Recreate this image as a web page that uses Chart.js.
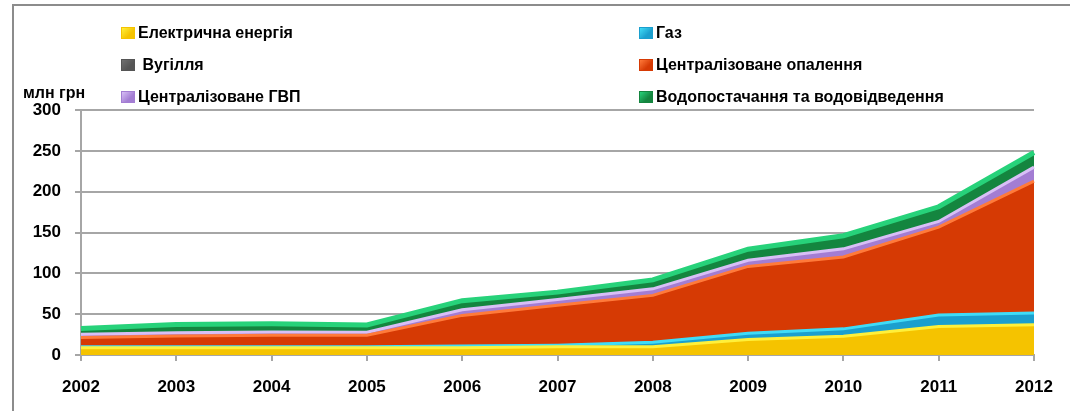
<!DOCTYPE html>
<html>
<head>
<meta charset="utf-8">
<script src="https://cdn.jsdelivr.net/npm/chart.js@4"></script>
<style>
  body { margin: 0; background: #fff; }
  #wrap { position: relative; width: 1070px; height: 411px; overflow: hidden; }
  #frame { position: absolute; left: 12px; top: 4px; width: 1200px; height: 600px;
           border-top: 2px solid #8c8c8c; border-left: 2px solid #8c8c8c; }
  canvas { position: absolute; left: 0; top: 0; }
  .lg { position: absolute; font: bold 16px "Liberation Sans", Arial, sans-serif; color: #000;
        line-height: 20px; white-space: nowrap; }
  .mk { display: inline-block; width: 14px; height: 12px; margin-right: 3px; vertical-align: -1px;
        box-sizing: border-box; }
  #unit { position: absolute; left: 23px; top: 84px; font: bold 16px "Liberation Sans", Arial, sans-serif; }
</style>
</head>
<body>
<div id="wrap">
  <div id="frame"></div>
  <canvas id="areaChart" width="1070" height="411"></canvas>
  <div id="unit">млн грн</div>
  <div id="legend"></div>
</div>
<script>
// years
var years = ["2002","2003","2004","2005","2006","2007","2008","2009","2010","2011","2012"];
// series values, млн грн
var elec  = [9, 9, 9, 9, 9, 10, 10, 19, 23, 35, 37];
var gas   = [1, 1, 1, 1, 2, 2, 5.5, 7.5, 9, 14, 14.5];
var coal  = [0.3, 0.3, 0.3, 0.3, 0.5, 0.5, 0.5, 0.5, 0.5, 0.5, 0.5];
var heat  = [11, 13, 14, 14, 37, 48.5, 57, 81.5, 87.5, 107, 161];
var hotw  = [4, 4, 4, 3.5, 7, 7, 8, 7.5, 10, 7, 17];
var water = [7, 10, 10, 9, 11, 9, 11, 13.5, 16, 18, 18];
var yTicks = [0, 50, 100, 150, 200, 250, 300];

var names = ["Електрична енергія", "Газ", "Вугілля", "Централізоване опалення",
             "Централізоване ГВП", "Водопостачання та водовідведення"];
var fills   = ["#f5c300", "#1b9fce", "#555555", "#d63a04", "#a37dd3", "#14853f"];
var edges   = ["#fff03a", "#40dcf7", "#707070", "#ff7a3a", "#d8bff6", "#27d27a"];
var widths  = [3, 3, 1, 3, 3, 5];
var allData = [elec, gas, coal, heat, hotw, water];

var fontAx = { family: "'Liberation Sans', Arial, sans-serif", size: 17, weight: "bold" };

// legend, two columns
var legPos = [[121, 23], [639, 23], [121, 55], [639, 55], [121, 87], [639, 87]];
var lg = document.getElementById("legend");
names.forEach(function (nm, i) {
  var d = document.createElement("div");
  d.className = "lg";
  d.style.left = legPos[i][0] + "px";
  d.style.top = legPos[i][1] + "px";
  var m = document.createElement("span");
  m.className = "mk";
  m.style.background = "linear-gradient(135deg," + edges[i] + " 0%," + fills[i] + " 65%)";
  m.style.border = "1px solid " + fills[i];
  d.appendChild(m);
  d.appendChild(document.createTextNode((i == 2 ? " " : "") + nm));
  lg.appendChild(d);
});

var datasets = allData.map(function (arr, i) {
  return {
    label: names[i],
    data: arr,
    backgroundColor: fills[i],
    borderColor: edges[i],
    borderWidth: widths[i],
    fill: i == 0 ? "origin" : "-1",
    pointRadius: 0,
    tension: 0
  };
});

new Chart(document.getElementById("areaChart"), {
  type: "line",
  data: { labels: years, datasets: datasets },
  options: {
    responsive: false,
    animation: false,
    devicePixelRatio: 1,
    layout: { padding: { top: 110, right: 36, left: 0, bottom: 0 } },
    plugins: { legend: { display: false }, tooltip: { enabled: false } },
    scales: {
      x: {
        offset: false,
        grid: { drawOnChartArea: false, drawTicks: true, tickLength: 6, color: "#a6a6a6", lineWidth: 2 },
        border: { color: "#a6a6a6", width: 2 },
        ticks: { color: "#000", font: fontAx, padding: 16, maxRotation: 0, autoSkip: false },
        afterFit: function (s) { s.height = 56; }
      },
      y: {
        stacked: true,
        min: 0, max: 300,
        afterBuildTicks: function (s) { s.ticks = yTicks.map(function (v) { return { value: v }; }); },
        grid: { color: "#a6a6a6", lineWidth: 2, tickLength: 6 },
        border: { color: "#a6a6a6", width: 2 },
        ticks: { color: "#000", font: fontAx, padding: 14 },
        afterFit: function (s) { s.width = 81; }
      }
    }
  }
});
</script>
</body>
</html>
